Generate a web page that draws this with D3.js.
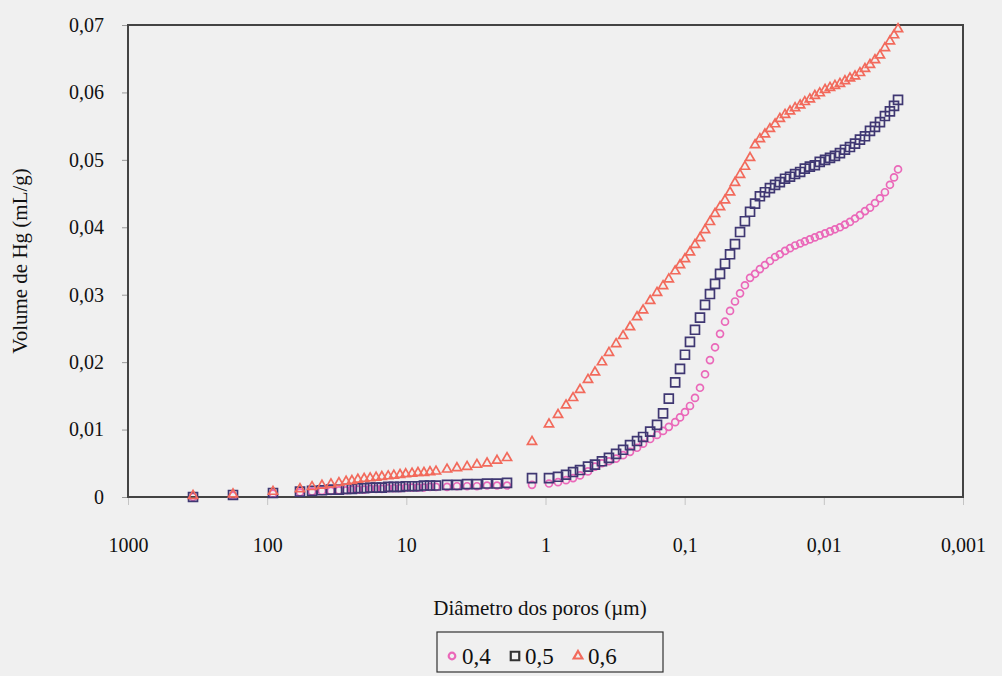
<!DOCTYPE html>
<html lang="pt">
<head>
    <meta charset="UTF-8">
    <title>Porosimetria</title>
    <style>
        body { margin: 0; background: #f0f0f0; }
        text { font-family: "Liberation Serif", "Times New Roman", serif; fill: #111; }
    </style>
</head>
<body>
<script src="https://d3js.org/d3.v7.min.js"></script>
<script>
    // diametro dos poros (um), comum as tres amostras
    let diametros = [341, 176, 90.8, 58.1, 47.6, 40.4, 34.8, 30.5, 27.1, 24.6, 22.3, 20.1, 18.2, 16.5, 15.0, 13.5, 12.3, 11.1, 10.1, 9.1,
        8.25, 7.47, 6.76, 6.12, 5.10, 4.33, 3.66, 3.11, 2.63, 2.23, 1.89, 1.25, 0.944, 0.813, 0.712, 0.634, 0.565, 0.495, 0.441, 0.393,
        0.350, 0.311, 0.277, 0.247, 0.220, 0.199, 0.177, 0.158, 0.143, 0.130, 0.117, 0.108, 0.0995, 0.0916, 0.0843, 0.0776, 0.0714, 0.0658, 0.0605, 0.0557,
        0.0513, 0.0472, 0.0435, 0.0400, 0.0369, 0.0339, 0.0312, 0.0288, 0.0265, 0.0244, 0.0224, 0.0207, 0.0190, 0.0175, 0.0161, 0.0148, 0.0137, 0.0126, 0.0116, 0.0107,
        0.0098, 0.00903, 0.00832, 0.00766, 0.00705, 0.00649, 0.00597, 0.00550, 0.00506, 0.00466, 0.00429, 0.00395, 0.00364, 0.00335, 0.00313, 0.00293];

    // volume de Hg (mL/g)
    let v04 = [0, 0.0002, 0.0005, 0.0007, 0.0008, 0.0009, 0.0009, 0.0010, 0.0010, 0.0011, 0.0011, 0.0011, 0.0012, 0.0012, 0.0012, 0.0013, 0.0013, 0.0013, 0.0014, 0.0014,
        0.0014, 0.0014, 0.0015, 0.0015, 0.0015, 0.0016, 0.0016, 0.0016, 0.0017, 0.0017, 0.0017, 0.0018, 0.0020, 0.0022, 0.0025, 0.0028, 0.0032, 0.0038, 0.0045, 0.0050,
        0.0053, 0.0057, 0.0062, 0.0067, 0.0073, 0.0079, 0.0086, 0.0092, 0.0098, 0.0104, 0.0111, 0.0118, 0.0126, 0.0135, 0.0147, 0.0162, 0.0182, 0.0203, 0.0222, 0.0242,
        0.0260, 0.0276, 0.0290, 0.0302, 0.0314, 0.0325, 0.0331, 0.0338, 0.0344, 0.0350, 0.0356, 0.0360, 0.0365, 0.0369, 0.0373, 0.0376, 0.0379, 0.0382, 0.0385, 0.0388,
        0.0391, 0.0394, 0.0397, 0.0400, 0.0404, 0.0408, 0.0413, 0.0418, 0.0424, 0.0429, 0.0436, 0.0443, 0.0452, 0.0463, 0.0474, 0.0486];

    let v05 = [0, 0.0003, 0.0006, 0.0008, 0.0009, 0.0010, 0.0011, 0.0011, 0.0012, 0.0012, 0.0013, 0.0013, 0.0014, 0.0014, 0.0014, 0.0015, 0.0015, 0.0015, 0.0016, 0.0016,
        0.0016, 0.0017, 0.0017, 0.0017, 0.0018, 0.0018, 0.0019, 0.0019, 0.0020, 0.0020, 0.0021, 0.0028, 0.0028, 0.0030, 0.0033, 0.0037, 0.0040, 0.0045, 0.0048, 0.0053,
        0.0058, 0.0064, 0.0070, 0.0077, 0.0083, 0.0089, 0.0097, 0.0107, 0.0124, 0.0146, 0.0170, 0.0190, 0.0211, 0.0230, 0.0248, 0.0266, 0.0285, 0.0301, 0.0316, 0.0331,
        0.0346, 0.0360, 0.0375, 0.0393, 0.0409, 0.0423, 0.0435, 0.0446, 0.0452, 0.0458, 0.0463, 0.0467, 0.0472, 0.0475, 0.0479, 0.0482, 0.0487, 0.0490, 0.0492, 0.0497,
        0.0500, 0.0503, 0.0506, 0.0510, 0.0515, 0.0519, 0.0524, 0.0530, 0.0535, 0.0543, 0.0549, 0.0556, 0.0565, 0.0572, 0.0580, 0.0589];

    let v06 = [0.0002, 0.0004, 0.0008, 0.0012, 0.0015, 0.0017, 0.0019, 0.0021, 0.0023, 0.0024, 0.0026, 0.0027, 0.0028, 0.0029, 0.0030, 0.0031, 0.0032, 0.0033, 0.0034, 0.0035,
        0.0036, 0.0036, 0.0037, 0.0038, 0.0041, 0.0043, 0.0045, 0.0048, 0.0050, 0.0054, 0.0058, 0.0082, 0.0108, 0.0122, 0.0136, 0.0147, 0.0159, 0.0174, 0.0185, 0.0200,
        0.0214, 0.0227, 0.0239, 0.0252, 0.0267, 0.0277, 0.0291, 0.0303, 0.0313, 0.0323, 0.0335, 0.0344, 0.0353, 0.0363, 0.0374, 0.0384, 0.0396, 0.0408, 0.0420, 0.0430,
        0.0440, 0.0452, 0.0466, 0.0478, 0.0490, 0.0503, 0.0522, 0.0531, 0.0538, 0.0546, 0.0553, 0.0561, 0.0567, 0.0572, 0.0577, 0.0581, 0.0586, 0.0590, 0.0595, 0.0599,
        0.0604, 0.0607, 0.0610, 0.0613, 0.0617, 0.0621, 0.0624, 0.0629, 0.0635, 0.0641, 0.0648, 0.0655, 0.0666, 0.0676, 0.0685, 0.0694];

    let xTicks = [1000, 100, 10, 1, 0.1, 0.01, 0.001];
    let yTicks = [0, 0.01, 0.02, 0.03, 0.04, 0.05, 0.06, 0.07];
    let series = ['0,4', '0,5', '0,6'];

    let width = 1002;
    let height = 676;
    let padding = { top: 25, right: 39, bottom: 179, left: 128 };
    let fmt = v => String(v).replace('.', ',');

    let svg = d3.select('body').append('svg')
        .attr('width', width)
        .attr('height', height);

    svg.append('rect').attr('width', width).attr('height', height).attr('fill', '#f0f0f0');

    let xScale = d3.scaleLog()
        .domain([1000, 0.001])
        .range([padding.left, width - padding.right]);
    let yScale = d3.scaleLinear()
        .domain([0, 0.07])
        .range([height - padding.bottom, padding.top]);

    // eixo x
    let xAxis = d3.axisBottom(xScale).tickValues(xTicks).tickSize(8).tickPadding(33)
        .tickFormat(d => fmt(d));
    let gx = svg.append('g')
        .attr('transform', 'translate(0,' + (height - padding.bottom) + ')')
        .call(xAxis);
    gx.select('.domain').remove();
    gx.selectAll('line').attr('stroke', '#c4c4c4');
    gx.selectAll('text').attr('font-size', 20).attr('fill', '#111')
        .attr('font-family', '"Liberation Serif", serif');

    // eixo y
    let yAxis = d3.axisLeft(yScale).tickValues(yTicks).tickSize(6).tickPadding(18)
        .tickFormat(d => d === 0 ? '0' : fmt(d.toFixed(2)));
    let gy = svg.append('g')
        .attr('transform', 'translate(' + padding.left + ',0)')
        .call(yAxis);
    gy.select('.domain').remove();
    gy.selectAll('line').attr('stroke', '#999');
    gy.selectAll('text').attr('font-size', 20).attr('fill', '#111')
        .attr('font-family', '"Liberation Serif", serif');

    // moldura
    svg.append('rect')
        .attr('x', padding.left)
        .attr('y', padding.top)
        .attr('width', width - padding.left - padding.right)
        .attr('height', height - padding.top - padding.bottom)
        .attr('fill', 'none')
        .attr('stroke', '#444')
        .attr('stroke-width', 2);

    let colors = ['#ea68b9', '#3f3772', '#f26a5c'];
    let symbols = [d3.symbolCircle, d3.symbolSquare, d3.symbolTriangle];
    let sizes = [38, 80, 36];
    let values = [v04, v05, v06];

    // pontos: 0,4 por baixo, depois 0,5 e 0,6
    values.forEach((vals, i) => {
        svg.append('g').selectAll('path')
            .data(diametros.map((d, j) => [d, vals[j]]))
            .enter()
            .append('path')
            .attr('d', d3.symbol().type(symbols[i]).size(sizes[i]))
            .attr('transform', d => 'translate(' + xScale(d[0]) + ',' + yScale(d[1]) + ')')
            .attr('fill', 'none')
            .attr('stroke', colors[i])
            .attr('stroke-width', 1.7);
    });

    // titulos
    svg.append('text')
        .attr('x', 540).attr('y', 615)
        .attr('text-anchor', 'middle')
        .attr('font-size', 21)
        .text('Diâmetro dos poros (µm)');
    svg.append('text')
        .attr('transform', 'translate(27,' + ((padding.top + height - padding.bottom) / 2) + ') rotate(-90)')
        .attr('text-anchor', 'middle')
        .attr('font-size', 21)
        .text('Volume de Hg (mL/g)');

    // legenda
    let leg = svg.append('g');
    leg.append('rect')
        .attr('x', 437).attr('y', 632).attr('width', 226).attr('height', 40)
        .attr('fill', '#f0f0f0').attr('stroke', '#333').attr('stroke-width', 1.2);
    let legX = [452, 515, 578];
    series.forEach((s, i) => {
        leg.append('path')
            .attr('d', d3.symbol().type(symbols[i]).size(sizes[i] * 0.9))
            .attr('transform', 'translate(' + legX[i] + ',656)')
            .attr('fill', 'none')
            .attr('stroke', i === 1 ? '#333' : colors[i])
            .attr('stroke-width', 2.2);
        leg.append('text')
            .attr('x', legX[i] + 10).attr('y', 664)
            .attr('font-size', 23)
            .text(s);
    });
</script>
</body>
</html>
